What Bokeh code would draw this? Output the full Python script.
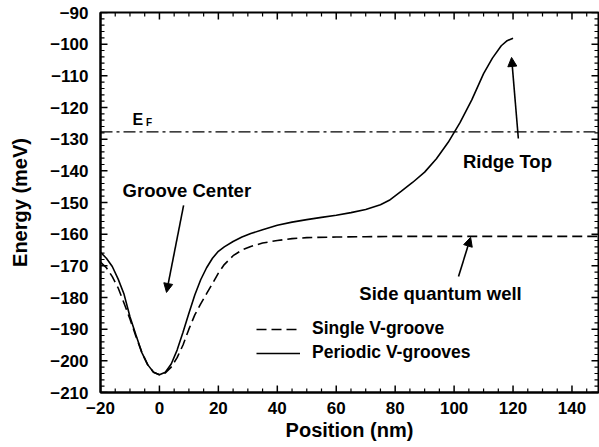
from bokeh.plotting import figure
from bokeh.models import (Range1d, LinearAxis, FixedTicker, Legend, LegendItem,
                          Span, Arrow, NormalHead, Label)
from bokeh.embed import file_html
from bokeh.resources import INLINE

# ---------------- data ----------------
x_periodic = [-20, -18, -16, -14, -12, -10, -8, -6, -4, -2, 0, 2, 4, 6, 8, 10, 12, 14, 16, 18,
              20, 22, 25, 28, 31, 35, 40, 45, 50, 55, 60, 65, 70, 75, 78, 82, 86, 90, 94, 98,
              102, 106, 110, 113, 116, 118, 120]
y_periodic = [-165.7, -167.6, -170.2, -174.2, -179.0, -186.1, -191.8, -197.3, -201.2, -203.6,
              -204.4, -203.6, -201.0, -196.6, -191.0, -185.0, -179.2, -174.4, -170.6, -167.6,
              -165.4, -164.0, -162.3, -160.9, -159.8, -158.6, -157.2, -156.2, -155.4, -154.7,
              -154.0, -153.2, -152.2, -150.7, -149.3, -146.5, -143.6, -140.4, -136.2, -131.0,
              -124.8, -117.6, -109.3, -104.4, -100.5, -98.9, -98.1]

x_single = [-20, -18, -16, -14, -12, -10, -8, -6, -4, -2, 0, 2, 4, 6, 8, 10, 12, 14, 16, 18,
            20, 22, 25, 28, 31, 35, 40, 45, 50, 60, 70, 80, 90, 100, 110, 120, 130, 140, 150]
y_single = [-168.8, -170.6, -173.4, -177.0, -181.8, -186.8, -192.2, -197.3, -201.2, -203.6,
            -204.4, -203.8, -202.0, -199.0, -195.0, -190.0, -185.5, -182.0, -178.8, -175.6,
            -172.3, -169.6, -166.8, -165.0, -163.9, -162.8, -162.0, -161.4, -161.1, -160.9,
            -160.8, -160.7, -160.7, -160.7, -160.7, -160.7, -160.7, -160.7, -160.7]

fermi_level = -127.7

x_ticks = [-20, 0, 20, 40, 60, 80, 100, 120, 140]
y_ticks = [-90, -100, -110, -120, -130, -140, -150, -160, -170, -180, -190, -200, -210]
x_minor = [v for v in range(-20, 151, 5) if v not in x_ticks]
y_minor = [v for v in range(-210, -89, 2) if v not in y_ticks]

series_names = ["Single V-groove", "Periodic V-grooves"]

# annotations: text, x, y (data units)
ann_text = ["Groove Center", "Ridge Top", "Side quantum well"]
ann_x = [-12.5, 118.1, 95.4]
ann_y = [-146.2, -137.0, -178.7]
ann_align = ["left", "center", "center"]

# arrows: tail -> tip (data units)
arr_x0 = [8.2, 121.8, 101.5]
arr_y0 = [-150.9, -129.8, -173.4]
arr_x1 = [2.4, 119.5, 105.6]
arr_y1 = [-178.4, -104.2, -161.0]

# ---------------- figure ----------------
FONT = "Liberation Sans"
X0, X1, Y0, Y1 = -20, 149, -210, -90
PX_X = 498 / (X1 - X0)    # screen pixels per x unit
PX_Y = 380 / (Y1 - Y0)    # screen pixels per y unit

p = figure(width=599, height=447, output_backend="svg", toolbar_location=None,
           x_range=Range1d(X0, X1), y_range=Range1d(Y0, Y1),
           x_axis_type=None, y_axis_type=None,
           min_border_left=100, min_border_right=1, min_border_top=12, min_border_bottom=55)
p.xgrid.visible = False
p.ygrid.visible = False
p.outline_line_color = "black"
p.outline_line_width = 2
p.background_fill_color = "white"
p.border_fill_color = "white"

r_single = p.line(x_single, y_single, line_color="black", line_width=1.6, line_dash="10 5")
r_periodic = p.line(x_periodic, y_periodic, line_color="black", line_width=1.6)

p.add_layout(Span(location=fermi_level, dimension="width", line_color="black",
                  line_width=1.4, line_dash="12 4 3 4"))

# inward ticks on all four sides (segments, lengths given in pixels)
for ticks, length, lw in [(x_ticks, 7, 1.5), (x_minor, 4, 1.2)]:
    n = len(ticks)
    d = length / PX_Y
    p.segment(x0=ticks, y0=[Y0] * n, x1=ticks, y1=[Y0 + d] * n,
              line_color="black", line_width=lw)
    p.segment(x0=ticks, y0=[Y1] * n, x1=ticks, y1=[Y1 - d] * n,
              line_color="black", line_width=lw)
for ticks, length, lw in [(y_ticks, 7, 1.5), (y_minor, 4, 1.2)]:
    n = len(ticks)
    d = length / PX_X
    p.segment(x0=[X0] * n, y0=ticks, x1=[X0 + d] * n, y1=ticks,
              line_color="black", line_width=lw)
    p.segment(x0=[X1] * n, y0=ticks, x1=[X1 - d] * n, y1=ticks,
              line_color="black", line_width=lw)


def minus(v):
    return str(v).replace("-", "\u2212")


bottom_ax = LinearAxis(axis_label="Position (nm)")
left_ax = LinearAxis(axis_label="Energy (meV)")

for ax, ticks in [(bottom_ax, x_ticks), (left_ax, y_ticks)]:
    ax.ticker = FixedTicker(ticks=ticks, minor_ticks=[])
    ax.axis_line_color = "black"
    ax.axis_line_width = 2
    ax.major_tick_line_color = None
    ax.minor_tick_line_color = None
    ax.major_tick_in = 0
    ax.major_tick_out = 0
    ax.minor_tick_in = 0
    ax.minor_tick_out = 0
    ax.major_label_text_font = FONT
    ax.major_label_text_font_style = "bold"
    ax.major_label_text_font_size = "17px"
    ax.major_label_text_color = "black"
    ax.major_label_overrides = {t: minus(t) for t in ticks}
    ax.axis_label_text_font = FONT
    ax.axis_label_text_font_style = "bold"
    ax.axis_label_text_font_size = "20px"
    ax.axis_label_text_color = "black"

left_ax.major_label_standoff = 12
left_ax.axis_label_standoff = 16
bottom_ax.major_label_standoff = 9
bottom_ax.axis_label_standoff = 2

p.add_layout(bottom_ax, "below")
p.add_layout(left_ax, "left")

# annotations
for t, x, y, a in zip(ann_text, ann_x, ann_y, ann_align):
    p.add_layout(Label(x=x, y=y, text=t, text_font=FONT, text_font_style="bold",
                       text_font_size="18.5px", text_align=a, text_baseline="alphabetic",
                       text_color="black"))

p.add_layout(Label(x=-9.1, y=-123.9, text="E", text_font=FONT, text_font_style="bold",
                   text_font_size="16px", text_baseline="alphabetic", text_color="black"))
p.add_layout(Label(x=-4.6, y=-124.8, text="F", text_font=FONT, text_font_style="bold",
                   text_font_size="10px", text_baseline="alphabetic", text_color="black"))

for x0, y0, x1, y1 in zip(arr_x0, arr_y0, arr_x1, arr_y1):
    p.add_layout(Arrow(x_start=x0, y_start=y0, x_end=x1, y_end=y1, line_width=1.6,
                       line_color="black",
                       end=NormalHead(size=9, fill_color="black", line_color="black",
                                      line_width=1)))

legend = Legend(items=[LegendItem(label=series_names[0], renderers=[r_single]),
                       LegendItem(label=series_names[1], renderers=[r_periodic])],
                location=(156, 29), orientation="vertical",
                padding=0, margin=0, spacing=3,
                glyph_width=44, glyph_height=20, label_height=20, label_standoff=12,
                label_text_font=FONT, label_text_font_style="bold",
                label_text_font_size="17.5px", label_text_color="black",
                border_line_color=None, background_fill_alpha=0)
p.add_layout(legend, "center")

open("out.html", "w").write(file_html(p, INLINE))
